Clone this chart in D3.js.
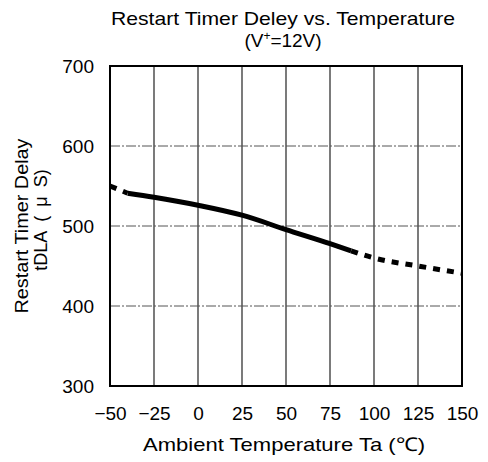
<!DOCTYPE html>
<html>
<head>
<meta charset="utf-8">
<script src="https://cdn.jsdelivr.net/npm/d3@7"></script>
<style>
  body { margin: 0; background: #fff; }
  text { font-family: "Liberation Sans", Arial, sans-serif; fill: #000; }
</style>
</head>
<body>
<svg id="chart" width="488" height="462"></svg>
<script>
// values
var temps  = [-50, -40, -25, 0, 25, 50, 75, 87, 100, 125, 150];
var delays = [550, 541, 536, 526, 513.5, 495.5, 478, 469, 460, 450, 441];
var solidFrom = -40, solidTo = 87;

var xTicks = [-50, -25, 0, 25, 50, 75, 100, 125, 150];
var yTicks = [300, 400, 500, 600, 700];

(function() {
  var svg = d3.select("#chart");
  var plotL = 110, plotR = 462, plotT = 66, plotB = 386;

  var x = d3.scaleLinear().domain([-50, 150]).range([plotL, plotR]);
  var y = d3.scaleLinear().domain([300, 700]).range([plotB, plotT]);

  // grid
  svg.append("g").selectAll("line").data(xTicks.slice(1, -1)).enter().append("line")
    .attr("x1", function(d) { return x(d); }).attr("x2", function(d) { return x(d); })
    .attr("y1", plotT).attr("y2", plotB)
    .attr("stroke", "#222").attr("stroke-width", 1.2);

  svg.append("g").selectAll("line").data(yTicks.slice(1, -1)).enter().append("line")
    .attr("x1", plotL).attr("x2", plotR)
    .attr("y1", function(d) { return y(d); }).attr("y2", function(d) { return y(d); })
    .attr("stroke", "#555").attr("stroke-width", 1)
    .attr("stroke-dasharray", "10,2,2,2");

  // frame
  svg.append("rect").attr("x", plotL).attr("y", plotT)
    .attr("width", plotR - plotL).attr("height", plotB - plotT)
    .attr("fill", "none").attr("stroke", "#000").attr("stroke-width", 2);

  // axes (labels only)
  var xAxis = svg.append("g").attr("transform", "translate(0," + plotB + ")")
    .call(d3.axisBottom(x).tickValues(xTicks).tickSize(0).tickPadding(21)
      .tickFormat(function(d) { return d < 0 ? "\u2212" + Math.abs(d) : d; }));
  var yAxis = svg.append("g").attr("transform", "translate(" + plotL + ",0)")
    .call(d3.axisLeft(y).tickValues(yTicks).tickSize(0).tickPadding(16));
  [xAxis, yAxis].forEach(function(a) {
    a.select(".domain").remove();
    a.selectAll("text").style("font-size", "19px")
      .style("font-family", "'Liberation Sans', Arial, sans-serif");
  });

  // curve
  var pts = temps.map(function(t, i) { return [t, delays[i]]; });
  var line = d3.line().curve(d3.curveMonotoneX)
    .x(function(d) { return x(d[0]); }).y(function(d) { return y(d[1]); });

  var lowPart = pts.filter(function(d) { return d[0] <= solidFrom; });
  var midPart = pts.filter(function(d) { return d[0] >= solidFrom && d[0] <= solidTo; });
  var highPart = pts.filter(function(d) { return d[0] >= solidTo; });

  svg.append("path").attr("d", line(midPart))
    .attr("fill", "none").attr("stroke", "#000").attr("stroke-width", 5);
  [lowPart, highPart].forEach(function(p) {
    svg.append("path").attr("d", line(p))
      .attr("fill", "none").attr("stroke", "#000").attr("stroke-width", 5)
      .attr("stroke-dasharray", "7,7");
  });

  // titles
  svg.append("text").attr("x", 283).attr("y", 25).attr("text-anchor", "middle")
    .attr("font-size", 19).attr("textLength", 344).attr("lengthAdjust", "spacingAndGlyphs")
    .text("Restart Timer Deley vs. Temperature");
  var t2 = svg.append("text").attr("x", 283).attr("y", 47).attr("text-anchor", "middle")
    .attr("font-size", 19);
  t2.append("tspan").text("(V");
  t2.append("tspan").attr("font-size", 12).attr("dy", -7).text("+");
  t2.append("tspan").attr("dy", 7).text("=12V)");

  svg.append("text").attr("x", 284).attr("y", 451).attr("text-anchor", "middle")
    .attr("font-size", 19).attr("textLength", 282).attr("lengthAdjust", "spacingAndGlyphs")
    .text("Ambient Temperature Ta (\u2103)");

  svg.append("text").attr("transform", "translate(28,226) rotate(-90)")
    .attr("text-anchor", "middle").attr("font-size", 18)
    .attr("textLength", 175).attr("lengthAdjust", "spacingAndGlyphs")
    .text("Restart Timer Delay");
  svg.append("text").attr("transform", "translate(47,220) rotate(-90)")
    .attr("text-anchor", "middle").attr("font-size", 18)
    .text("tDLA\u2002(\u2002\u03bc\u2002S)");
})();
</script>
</body>
</html>
